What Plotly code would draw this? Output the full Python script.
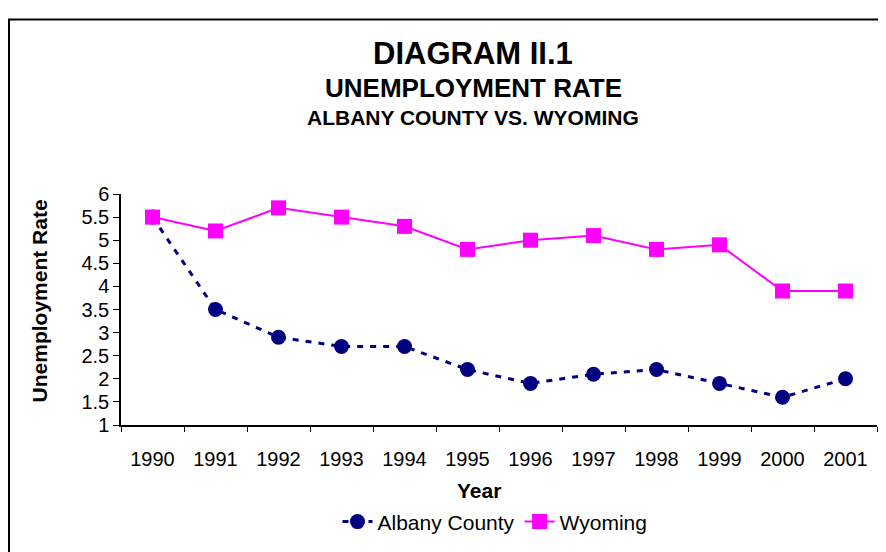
import plotly.graph_objects as go

years = ["1990", "1991", "1992", "1993", "1994", "1995",
         "1996", "1997", "1998", "1999", "2000", "2001"]
albany = [5.5, 3.5, 2.9, 2.7, 2.7, 2.2, 1.9, 2.1, 2.2, 1.9, 1.6, 2.0]
wyoming = [5.5, 5.2, 5.7, 5.5, 5.3, 4.8, 5.0, 5.1, 4.8, 4.9, 3.9, 3.9]
y_ticks = [1, 1.5, 2, 2.5, 3, 3.5, 4, 4.5, 5, 5.5, 6]

FONT = "Liberation Sans, Arial, sans-serif"
OFF = 8  # page body margin around the plot div
W, H = 878, 544
L, R, T, B = 113, 9, 186, 115
pw, ph = W - L - R, H - T - B


# helpers: page pixel -> paper coords
def px_x(x):
    return (x - OFF - L) / pw


def px_y(y):
    return (H - B - (y - OFF)) / ph


fig = go.Figure()
fig.add_trace(go.Scatter(
    x=years, y=albany, name="Albany County", mode="lines+markers",
    line=dict(color="#000080", width=3, dash="6px,7px"),
    marker=dict(symbol="circle", size=15, color="#000080"),
))
fig.add_trace(go.Scatter(
    x=years, y=wyoming, name="Wyoming", mode="lines+markers",
    line=dict(color="#FF00FF", width=2),
    marker=dict(symbol="square", size=15, color="#FF00FF"),
))

titles = [("DIAGRAM II.1", 31, 46), ("UNEMPLOYMENT RATE", 26, 82),
          ("ALBANY COUNTY VS. WYOMING", 21, 114)]
annotations = [
    dict(text=f"<b>{t}</b>", x=px_x(473), y=px_y(yy), xref="paper", yref="paper",
         showarrow=False, xanchor="center", yanchor="middle",
         font=dict(size=s, color="black", family=FONT))
    for t, s, yy in titles
]
annotations.append(dict(text="<b>Unemployment Rate</b>", x=px_x(39), y=px_y(307),
                        xref="paper", yref="paper", showarrow=False, textangle=-90,
                        xanchor="center", yanchor="middle",
                        font=dict(size=21, color="black", family=FONT)))
annotations.append(dict(text="<b>Year</b>", x=px_x(479), y=px_y(506),
                        xref="paper", yref="paper", showarrow=False,
                        xanchor="center", yanchor="middle",
                        font=dict(size=21, color="black", family=FONT)))

fig.update_layout(
    width=W, height=H,
    margin=dict(l=L, r=R, t=T, b=B),
    paper_bgcolor="white", plot_bgcolor="white",
    font=dict(family=FONT, size=20, color="black"),
    showlegend=True,
    legend=dict(orientation="h", x=px_x(495), y=px_y(539), xanchor="center",
                yanchor="middle", font=dict(size=21, color="black"),
                bgcolor="rgba(0,0,0,0)"),
    annotations=annotations,
    shapes=[dict(type="rect", xref="paper", yref="paper",
                 x0=px_x(9), x1=px_x(W + 40), y0=px_y(H + 40), y1=px_y(10.5),
                 line=dict(color="black", width=2))],
)
fig.update_xaxes(
    type="category", range=[-0.5, 11.5], showgrid=False, zeroline=False,
    showline=True, linecolor="black", linewidth=1.5,
    ticks="outside", tickson="boundaries", ticklen=5, tickcolor="black",
    tickfont=dict(size=20), ticklabelstandoff=15,
)
fig.update_yaxes(
    range=[1, 6], tickvals=y_ticks, ticktext=[f"{v:g}" for v in y_ticks],
    showgrid=False, zeroline=False, showline=True, linecolor="black", linewidth=1.5,
    ticks="outside", ticklen=6, tickcolor="black", tickfont=dict(size=20),
)

fig.write_html("out.html")
